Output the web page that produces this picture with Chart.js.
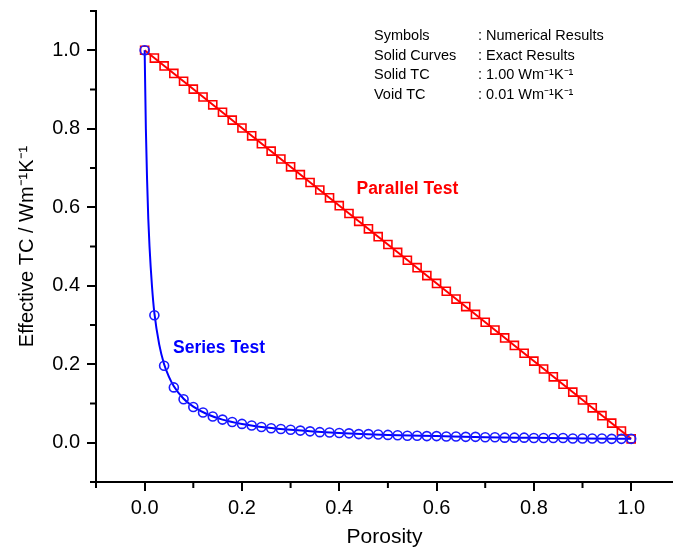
<!DOCTYPE html>
<html><head><meta charset="utf-8">
<script src="https://cdn.jsdelivr.net/npm/chart.js@4.4.1/dist/chart.umd.min.js"></script>
<style>html,body{margin:0;padding:0;background:#fff;}#wrap{width:673px;height:550px;position:relative;}</style>
</head><body><div id="wrap"><canvas id="c" width="673" height="550"></canvas></div>
<script>
// ---- data ----
const porosity = [0.00,0.02,0.04,0.06,0.08,0.10,0.12,0.14,0.16,0.18,0.20,0.22,0.24,0.26,0.28,0.30,0.32,0.34,0.36,0.38,0.40,0.42,0.44,0.46,0.48,0.50,0.52,0.54,0.56,0.58,0.60,0.62,0.64,0.66,0.68,0.70,0.72,0.74,0.76,0.78,0.80,0.82,0.84,0.86,0.88,0.90,0.92,0.94,0.96,0.98,1.00];
const parallelNumerical = [1.000,0.980,0.960,0.941,0.921,0.901,0.881,0.861,0.842,0.822,0.802,0.782,0.762,0.743,0.723,0.703,0.683,0.663,0.644,0.624,0.604,0.584,0.564,0.545,0.525,0.505,0.485,0.465,0.446,0.426,0.406,0.386,0.366,0.347,0.327,0.307,0.287,0.267,0.248,0.228,0.208,0.188,0.168,0.149,0.129,0.109,0.089,0.069,0.050,0.030,0.010];
const seriesNumerical = [1.000,0.325,0.196,0.141,0.111,0.091,0.077,0.067,0.059,0.053,0.048,0.044,0.040,0.037,0.035,0.033,0.031,0.029,0.027,0.026,0.025,0.024,0.022,0.022,0.021,0.020,0.019,0.018,0.018,0.017,0.017,0.016,0.016,0.015,0.015,0.014,0.014,0.013,0.013,0.013,0.012,0.012,0.012,0.012,0.011,0.011,0.011,0.011,0.010,0.010,0.010];
const exactParallelPorosity = [0.0, 1.0];
const exactParallel = [1.0, 0.01];
const exactSeriesPorosity = [0,0.0025,0.005,0.0075,0.01,0.015,0.02,0.03,0.04,0.05,0.06,0.08,0.1,0.13,0.16,0.2,0.25,0.3,0.4,0.5,0.6,0.7,0.8,0.9,1.0];
const exactSeries = [1.0,0.80,0.67,0.57,0.50,0.40,0.33,0.25,0.20,0.168,0.144,0.112,0.092,0.072,0.059,0.048,0.039,0.033,0.025,0.020,0.017,0.014,0.0125,0.011,0.010];
const xTicks = [0.0,0.2,0.4,0.6,0.8,1.0];
const yTicks = [0.0,0.2,0.4,0.6,0.8,1.0];
const xMinorTicks = [-0.1,0.1,0.3,0.5,0.7,0.9,1.1];
const yMinorTicks = [-0.1,0.1,0.3,0.5,0.7,0.9,1.1];
const noteLabels = ["Symbols","Solid Curves","Solid TC","Void TC"];
const noteValues = [": Numerical Results",": Exact Results",": 1.00 Wm\u207B\u00B9K\u207B\u00B9",": 0.01 Wm\u207B\u00B9K\u207B\u00B9"];
const xTitle = "Porosity";
const yTitle = "Effective TC / Wm\u207B\u00B9K\u207B\u00B9";
const parallelLabel = "Parallel Test";
const seriesLabel = "Series Test";

const pts = (xs, ys) => xs.map((x, i) => ({x: x, y: ys[i]}));
const FONT = "Arial, 'Liberation Sans', sans-serif";

const extras = {
  id: 'extras',
  afterDraw(chart) {
    const ctx = chart.ctx, xs = chart.scales.x, ys = chart.scales.y, ca = chart.chartArea;
    ctx.save();
    ctx.strokeStyle = '#000'; ctx.lineWidth = 2;
    xMinorTicks.forEach(v => {
      const px = xs.getPixelForValue(v);
      if (px < 0 || px > chart.width) return;
      ctx.beginPath(); ctx.moveTo(px, ca.bottom); ctx.lineTo(px, ca.bottom + 6); ctx.stroke();
    });
    yMinorTicks.forEach(v => {
      const py = ys.getPixelForValue(v);
      ctx.beginPath(); ctx.moveTo(ca.left, py); ctx.lineTo(ca.left - 6, py); ctx.stroke();
    });
    // series labels
    ctx.textAlign = 'center'; ctx.textBaseline = 'middle';
    ctx.font = "bold 17.5px " + FONT;
    ctx.fillStyle = '#ff0000';
    ctx.fillText(parallelLabel, xs.getPixelForValue(0.54), ys.getPixelForValue(0.646));
    ctx.fillStyle = '#0000ff';
    ctx.fillText(seriesLabel, xs.getPixelForValue(0.153), ys.getPixelForValue(0.240));
    // note block
    ctx.fillStyle = '#000'; ctx.textAlign = 'left';
    ctx.font = "14.5px " + FONT;
    noteLabels.forEach((t, i) => {
      const y = 36 + i * 19.5;
      ctx.fillText(t, 374, y);
      ctx.fillText(noteValues[i], 478, y);
    });
    ctx.restore();
  }
};

new Chart(document.getElementById('c'), {
  type: 'scatter',
  data: {
    datasets: [
      {data: pts(porosity, seriesNumerical), showLine: false, pointStyle: 'circle', pointRadius: 4.5,
       pointBorderWidth: 1.6, borderColor: '#1a1aff', backgroundColor: 'rgba(0,0,0,0)'},
      {data: pts(exactSeriesPorosity, exactSeries), showLine: true, pointRadius: 0, borderColor: '#0000ff',
       borderWidth: 2, cubicInterpolationMode: 'monotone', fill: false},
      {data: pts(porosity, parallelNumerical), showLine: false, pointStyle: 'rect', pointRadius: 5.7,
       pointBorderWidth: 1.6, borderColor: '#ff0000', backgroundColor: 'rgba(0,0,0,0)'},
      {data: pts(exactParallelPorosity, exactParallel), showLine: true, pointRadius: 0, borderColor: '#ff0000',
       borderWidth: 2, fill: false}
    ]
  },
  options: {
    responsive: false, animation: false,
    layout: {autoPadding: false, padding: {top: 11, right: 0, left: 0, bottom: 0}},
    plugins: {legend: {display: false}, tooltip: {enabled: false}},
    scales: {
      x: {
        type: 'linear', min: -0.1, max: 1.086,
        afterBuildTicks: s => { s.ticks = xTicks.map(v => ({value: v})); },
        afterFit: s => { s.height = 68; s.paddingLeft = 0; s.paddingRight = 0; },
        border: {display: true, color: '#000', width: 2},
        grid: {drawOnChartArea: false, drawTicks: true, tickLength: 9, color: '#000', lineWidth: 2},
        ticks: {color: '#000', font: {family: FONT, size: 20}, padding: 5, maxRotation: 0, autoSkip: false,
                callback: v => Number(v).toFixed(1)},
        title: {display: true, text: xTitle, color: '#000', font: {family: FONT, size: 21}, padding: {top: 0, bottom: 0}}
      },
      y: {
        type: 'linear', min: -0.1, max: 1.1,
        afterBuildTicks: s => { s.ticks = yTicks.map(v => ({value: v})); },
        afterFit: s => { s.width = 96; s.paddingTop = 0; s.paddingBottom = 0; },
        border: {display: true, color: '#000', width: 2},
        grid: {drawOnChartArea: false, drawTicks: true, tickLength: 9, color: '#000', lineWidth: 2},
        ticks: {color: '#000', font: {family: FONT, size: 20}, padding: 7, autoSkip: false,
                callback: v => Number(v).toFixed(1)},
        title: {display: true, text: yTitle, color: '#000', font: {family: FONT, size: 20}, padding: {top: 15, bottom: 0}}
      }
    }
  },
  plugins: [extras]
});
</script>
</body></html>
